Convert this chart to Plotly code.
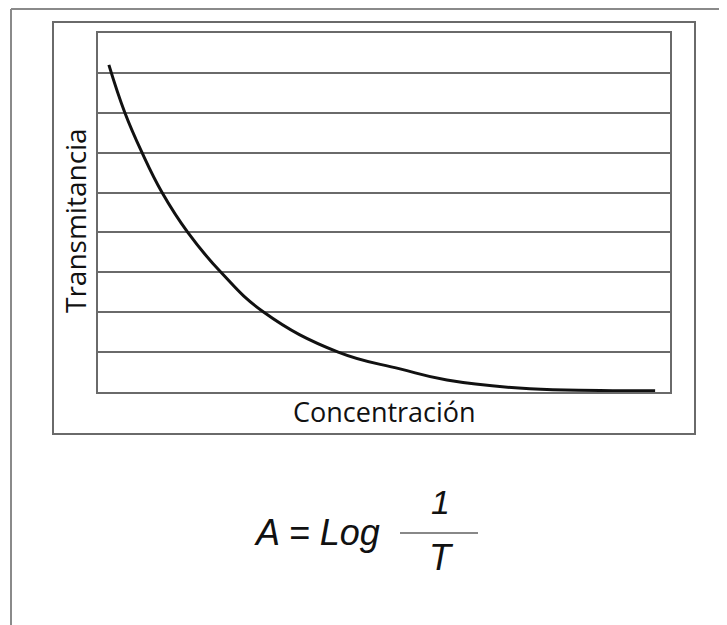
import plotly.graph_objects as go

# Curve data (concentration vs transmittance)
concentracion = [0.19, 0.47, 0.77, 1.12, 1.57, 2.15, 2.9, 4.2, 5.28, 6.1, 7.55, 8.78, 9.74]
transmitancia = [8.2, 7.0, 6.0, 5.0, 4.0, 3.0, 2.0, 1.0, 0.58, 0.3, 0.08, 0.04, 0.03]
grid_values = [0, 1, 2, 3, 4, 5, 6, 7, 8, 9]

OFF = 8  # page body margin
W, H = 727 - OFF, 625 - OFF
# plot area in page pixels
L, R, T, B = 98, 670, 33, 392

def px(x):
    return (x - L) / (R - L)

def py(y):
    return (B - y) / (B - T)

GRAY = "#6a6a6a"

fig = go.Figure()
fig.add_trace(go.Scatter(
    x=concentracion, y=transmitancia, mode="lines",
    line=dict(color="#111111", width=3, shape="spline", smoothing=1.25),
    hoverinfo="skip", showlegend=False,
))

fig.update_layout(
    width=W, height=H, autosize=False,
    margin=dict(l=L - OFF, r=727 - R, t=T - OFF, b=625 - B),
    paper_bgcolor="white", plot_bgcolor="white",
    xaxis=dict(range=[0, 10], showgrid=False, zeroline=False, showticklabels=False,
               ticks="", showline=True, linecolor=GRAY, linewidth=2, mirror=True,
               fixedrange=True),
    yaxis=dict(range=[0, 9], tickvals=grid_values, showgrid=True, gridcolor=GRAY,
               gridwidth=2, zeroline=False, showticklabels=False, ticks="",
               showline=True, linecolor=GRAY, linewidth=2, mirror=True, fixedrange=True),
    shapes=[
        # outer frame (top and left edges)
        dict(type="line", xref="paper", yref="paper", x0=px(11), x1=px(740), y0=py(9), y1=py(9),
             line=dict(color="#8a8a8a", width=2), layer="above"),
        dict(type="line", xref="paper", yref="paper", x0=px(11), x1=px(11), y0=py(9), y1=py(640),
             line=dict(color="#8a8a8a", width=2), layer="above"),
        # middle frame
        dict(type="rect", xref="paper", yref="paper", x0=px(53), x1=px(695), y0=py(434), y1=py(22),
             line=dict(color=GRAY, width=2), layer="above"),
        # fraction bar
        dict(type="line", xref="paper", yref="paper", x0=px(400), x1=px(478), y0=py(533), y1=py(533),
             line=dict(color="#888888", width=2), layer="above"),
    ],
    annotations=[
        dict(text="Transmitancia", xref="paper", yref="paper", x=px(75), y=py(221),
             xanchor="center", yanchor="middle", textangle=-90, showarrow=False,
             font=dict(family="Open Sans", size=28, color="#111111")),
        dict(text="Concentración", xref="paper", yref="paper", x=px(384), y=py(411),
             xanchor="center", yanchor="middle", showarrow=False,
             font=dict(family="Open Sans", size=27, color="#111111")),
        dict(text="<i>A = Log</i>", xref="paper", yref="paper", x=px(317), y=py(532),
             xanchor="center", yanchor="middle", showarrow=False,
             font=dict(family="Liberation Sans", size=36, color="#111111")),
        dict(text="<i>1</i>", xref="paper", yref="paper", x=px(440), y=py(502),
             xanchor="center", yanchor="middle", showarrow=False,
             font=dict(family="Liberation Sans", size=34, color="#111111")),
        dict(text="<i>T</i>", xref="paper", yref="paper", x=px(441), y=py(557),
             xanchor="center", yanchor="middle", showarrow=False,
             font=dict(family="Liberation Sans", size=36, color="#111111")),
    ],
)

fig.write_html("out.html")
